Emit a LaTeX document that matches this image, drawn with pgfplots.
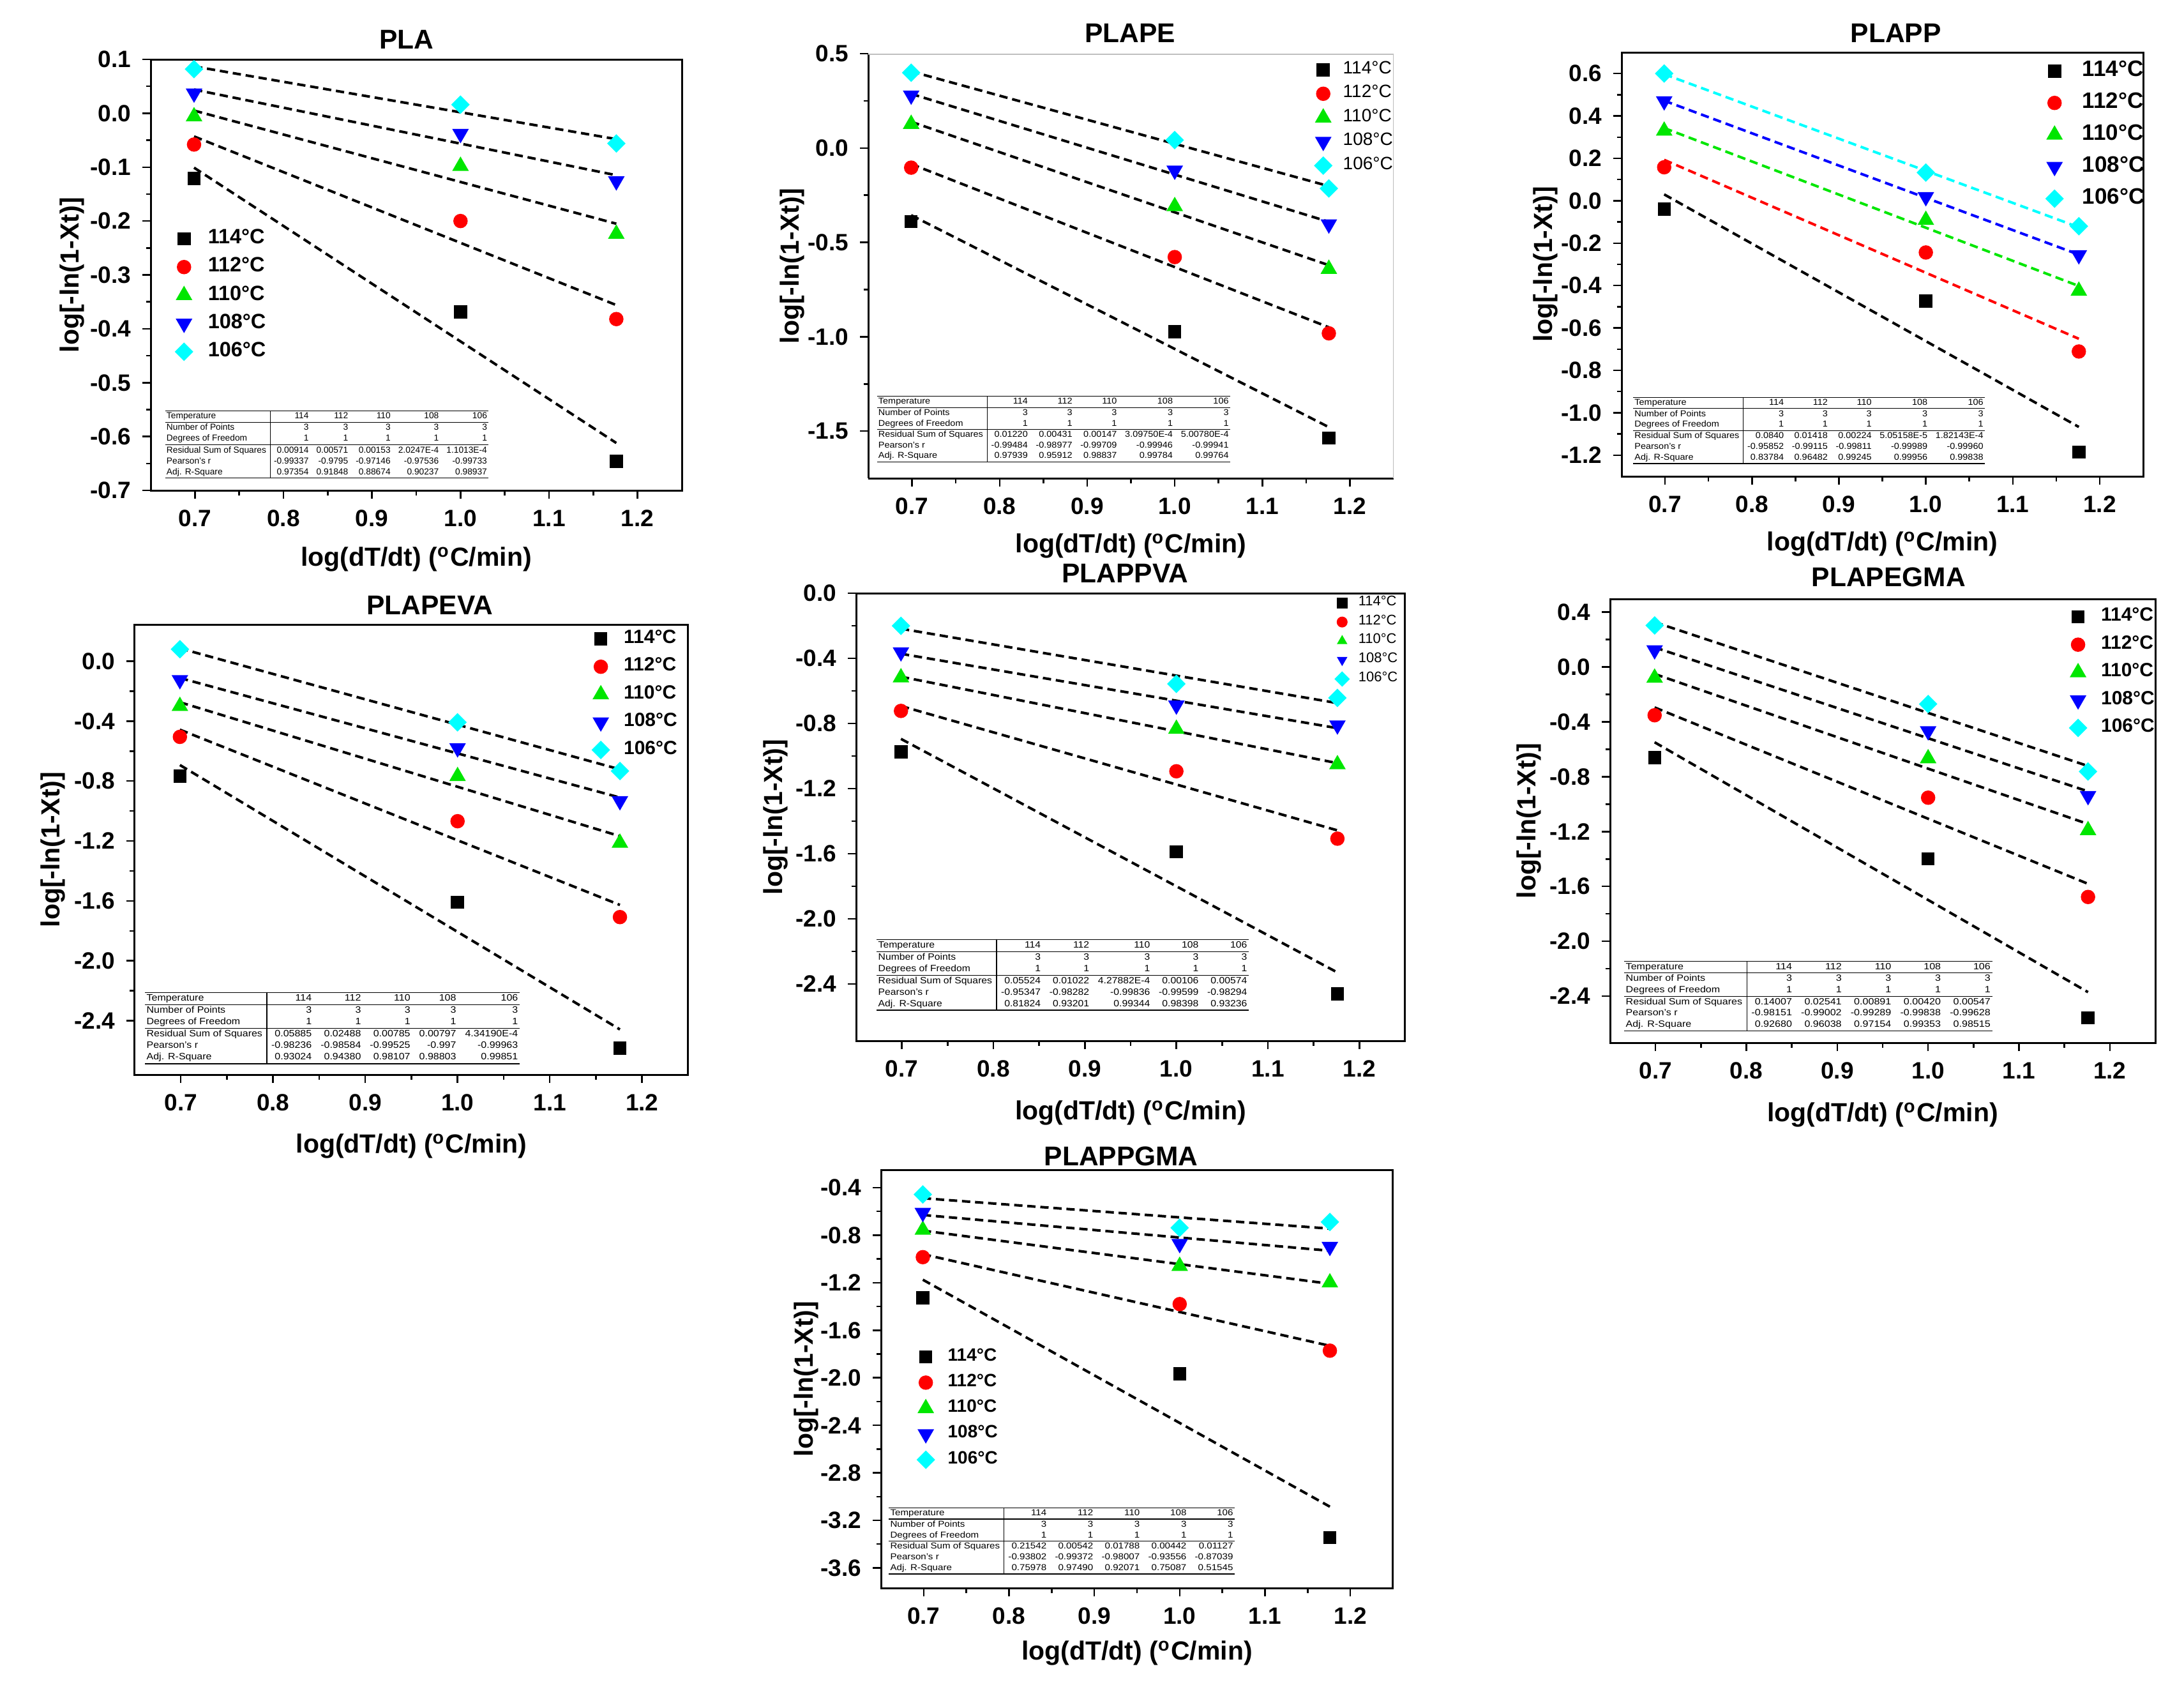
\documentclass[border=0pt]{standalone}
\usepackage{pgfplots}
\pgfplotsset{compat=1.18}
\usepackage{graphicx}
\usepackage{fontspec}
\setmainfont{Liberation Sans}
\definecolor{ored}{RGB}{255,0,0}
\definecolor{ogreen}{RGB}{0,230,0}
\definecolor{oblue}{RGB}{0,0,255}
\definecolor{ocyan}{RGB}{0,255,255}
\def\legsep{7pt}\def\legdy{0pt}
\tikzset{legextra/.style={}}
\pgfplotsset{
  s114/.style={only marks, mark=square*, mark size=1.85pt, color=black},
  s112/.style={only marks, mark=*, mark size=2.05pt, color=ored},
  s110/.style={only marks, mark=triangle*, mark size=2.6pt, color=ogreen},
  s108/.style={only marks, mark=triangle*, mark size=2.6pt, color=oblue, mark options={rotate=180}},
  s106/.style={only marks, mark=square*, mark size=1.85pt, color=ocyan, mark options={rotate=45}},
  fit/.style={forget plot, no marks, line width=0.8pt, dash pattern=on 2.6pt off 1.5pt},
  panel/.style={
    scale only axis, anchor=north west,
    xmin=0.65, xmax=1.25,
    xtick={0.7,0.8,0.9,1.0,1.1,1.2},
    minor x tick num=1, minor y tick num=1,
    tick align=outside, tick pos=left,
    major tick length=2.6pt, minor tick length=1.5pt,
    every tick/.style={black, line width=0.5pt},
    axis line style={line width=0.6pt},
    tick label style={font=\bfseries\fontsize{7.4}{8}\selectfont},
    /pgf/number format/assume math mode=true,
    /pgf/number format/fixed, /pgf/number format/fixed zerofill,
    /pgf/number format/precision=1,
    label style={font=\bfseries\fontsize{8.2}{9}\selectfont},
    every axis title/.style={font=\bfseries\fontsize{8.5}{9}\selectfont, anchor=center},
    xlabel={log(dT/dt) (\textsuperscript{o}C/min)},
    ylabel={log[-ln(1-Xt)]},
    xlabel style={anchor=center}, ylabel style={anchor=center},
    legend cell align=left,
    legend image code/.code={\begin{scope}[yshift=\legdy]\draw[##1,legextra] plot coordinates {(0pt,0pt)}; \path (-2.6pt,-2.6pt) (\legsep,2.6pt);\end{scope}},
    legend style={draw=none, fill=none, inner sep=0pt, outer sep=0pt, anchor=north west, nodes={inner sep=0pt}},
  }
}
\newcommand{\fittab}[5]{\resizebox*{#1}{#2}{\fontsize{5}{6.2}\selectfont\setlength{\tabcolsep}{2.2pt}%
\begin{tabular}{@{\,}l|rrrrr@{\,}}
\hline
Temperature & 114 & 112 & 110 & 108 & 106\\ \hline
Number of Points & 3 & 3 & 3 & 3 & 3\\
Degrees of Freedom & 1 & 1 & 1 & 1 & 1\\ \hline
Residual Sum of Squares & #3\\
Pearson's r & #4\\
Adj. R-Square & #5\\ \hline
\end{tabular}}}
\begin{document}
\begin{tikzpicture}
\useasboundingbox (0,0) rectangle (684.2pt,-528.2pt);
% ---------------- PLA
\def\legsep{7.3pt}
\begin{axis}[panel, at={(47.2pt,-18.6pt)}, width=166.4pt, height=135pt,
  ymin=-0.7, ymax=0.1, ytick={-0.7,-0.6,-0.5,-0.4,-0.3,-0.2,-0.1,0.0,0.1},
  title={PLA}, title style={at={(axis description cs:0.482,1.046)}},
  xlabel style={at={(axis description cs:0.5,-0.16)}},
  ylabel style={at={(axis description cs:-0.148,0.5)}},
  legend style={at={(axis description cs:0.046,0.606)}, font=\bfseries\fontsize{6.5}{7}\selectfont, row sep=2.8pt}]
\addplot[s114] coordinates {(0.699,-0.121) (1.0,-0.369) (1.176,-0.646)};
\addplot[s112] coordinates {(0.699,-0.058) (1.0,-0.200) (1.176,-0.382)};
\addplot[s110] coordinates {(0.699,-0.006) (1.0,-0.098) (1.176,-0.224)};
\addplot[s108] coordinates {(0.699,0.037) (1.0,-0.038) (1.176,-0.126)};
\addplot[s106] coordinates {(0.699,0.082) (1.0,0.016) (1.176,-0.056)};
\addplot[fit,black] coordinates {(0.699,-0.101) (1.176,-0.612)};
\addplot[fit,black] coordinates {(0.699,-0.043) (1.176,-0.356)};
\addplot[fit,black] coordinates {(0.699,0.005) (1.176,-0.205)};
\addplot[fit,black] coordinates {(0.699,0.044) (1.176,-0.115)};
\addplot[fit,black] coordinates {(0.699,0.087) (1.176,-0.048)};
\legend{114°C,112°C,110°C,108°C,106°C}
\end{axis}
% ---------------- PLAPE
\def\legsep{6pt}
\begin{axis}[panel, at={(272pt,-16.8pt)}, width=164.6pt, height=133pt,
  axis x line*=bottom, axis y line*=left,
  ymin=-1.75, ymax=0.5, ytick={-1.5,-1.0,-0.5,0.0,0.5},
  title={PLAPE}, title style={at={(axis description cs:0.498,1.048)}},
  xlabel style={at={(axis description cs:0.5,-0.159)}},
  ylabel style={at={(axis description cs:-0.145,0.5)}},
  legend style={at={(axis description cs:0.849,0.983)}, font=\fontsize{5.6}{6}\selectfont, row sep=1.9pt}]
\addplot[s114] coordinates {(0.699,-0.390) (1.0,-0.973) (1.176,-1.536)};
\addplot[s112] coordinates {(0.699,-0.104) (1.0,-0.578) (1.176,-0.982)};
\addplot[s110] coordinates {(0.699,0.127) (1.0,-0.309) (1.176,-0.641)};
\addplot[s108] coordinates {(0.699,0.279) (1.0,-0.119) (1.176,-0.404)};
\addplot[s106] coordinates {(0.699,0.399) (1.0,0.042) (1.176,-0.214)};
\addplot[fit,black] coordinates {(0.699,-0.356) (1.176,-1.479)};
\addplot[fit,black] coordinates {(0.699,-0.085) (1.176,-0.950)};
\addplot[fit,black] coordinates {(0.699,0.139) (1.176,-0.621)};
\addplot[fit,black] coordinates {(0.699,0.287) (1.176,-0.391)};
\addplot[fit,black] coordinates {(0.699,0.406) (1.176,-0.202)};
\draw[black!25, line width=0.6pt] (rel axis cs:0,1) -- (rel axis cs:1,1) -- (rel axis cs:1,0);
\legend{114°C,112°C,110°C,108°C,106°C}
\end{axis}
% ---------------- PLAPP
\def\legsep{8.5pt}
\begin{axis}[panel, at={(508pt,-16.4pt)}, width=163.4pt, height=132.8pt,
  ymin=-1.3, ymax=0.7, ytick={-1.2,-1.0,-0.8,-0.6,-0.4,-0.2,0.0,0.2,0.4,0.6},
  title={PLAPP}, title style={at={(axis description cs:0.526,1.045)}},
  xlabel style={at={(axis description cs:0.5,-0.16)}},
  ylabel style={at={(axis description cs:-0.146,0.5)}},
  legend style={at={(axis description cs:0.813,0.980)}, font=\bfseries\fontsize{7}{8}\selectfont, row sep=3.6pt}]
\addplot[s114] coordinates {(0.699,-0.040) (1.0,-0.473) (1.176,-1.186)};
\addplot[s112] coordinates {(0.699,0.158) (1.0,-0.244) (1.176,-0.711)};
\addplot[s110] coordinates {(0.699,0.330) (1.0,-0.091) (1.176,-0.425)};
\addplot[s108] coordinates {(0.699,0.470) (1.0,0.018) (1.176,-0.256)};
\addplot[s106] coordinates {(0.699,0.600) (1.0,0.133) (1.176,-0.120)};
\addplot[fit,black] coordinates {(0.699,0.030) (1.176,-1.067)};
\addplot[fit,ored] coordinates {(0.699,0.193) (1.176,-0.651)};
\addplot[fit,ogreen] coordinates {(0.699,0.343) (1.176,-0.402)};
\addplot[fit,oblue] coordinates {(0.699,0.472) (1.176,-0.254)};
\addplot[fit,ocyan] coordinates {(0.699,0.597) (1.176,-0.125)};
\legend{114°C,112°C,110°C,108°C,106°C}
\end{axis}
% ---------------- PLAPEVA
\def\legsep{7pt}
\begin{axis}[panel, at={(42.2pt,-195.6pt)}, width=173.4pt, height=141pt,
  ymin=-2.76, ymax=0.245, ytick={-2.4,-2.0,-1.6,-1.2,-0.8,-0.4,0.0},
  title={PLAPEVA}, title style={at={(axis description cs:0.533,1.043)}},
  xlabel style={at={(axis description cs:0.5,-0.159)}},
  ylabel style={at={(axis description cs:-0.148,0.5)}},
  legend style={at={(axis description cs:0.826,0.988)}, font=\bfseries\fontsize{6}{7}\selectfont, row sep=3.0pt}]
\addplot[s114] coordinates {(0.699,-0.768) (1.0,-1.608) (1.176,-2.583)};
\addplot[s112] coordinates {(0.699,-0.505) (1.0,-1.068) (1.176,-1.708)};
\addplot[s110] coordinates {(0.699,-0.300) (1.0,-0.768) (1.176,-1.213)};
\addplot[s108] coordinates {(0.699,-0.125) (1.0,-0.580) (1.176,-0.933)};
\addplot[s106] coordinates {(0.699,0.080) (1.0,-0.408) (1.176,-0.733)};
\addplot[fit,black] coordinates {(0.699,-0.693) (1.176,-2.458)};
\addplot[fit,black] coordinates {(0.699,-0.457) (1.176,-1.627)};
\addplot[fit,black] coordinates {(0.699,-0.274) (1.176,-1.168)};
\addplot[fit,black] coordinates {(0.699,-0.112) (1.176,-0.910)};
\addplot[fit,black] coordinates {(0.699,0.086) (1.176,-0.722)};
\legend{114°C,112°C,110°C,108°C,106°C}
\end{axis}
% ---------------- PLAPPVA
\def\legsep{4.9pt}
\tikzset{legextra/.style={mark size=1.5pt}}
\begin{axis}[panel, at={(268.2pt,-185.8pt)}, width=172pt, height=140.2pt,
  ymin=-2.75, ymax=0.0, ytick={-2.4,-2.0,-1.6,-1.2,-0.8,-0.4,0.0},
  title={PLAPPVA}, title style={at={(axis description cs:0.49,1.044)}},
  xlabel style={at={(axis description cs:0.5,-0.161)}},
  ylabel style={at={(axis description cs:-0.147,0.5)}},
  legend style={at={(axis description cs:0.869,0.998)}, font=\fontsize{4.4}{5}\selectfont, row sep=0.35pt}]
\addplot[s114] coordinates {(0.699,-0.974) (1.0,-1.589) (1.176,-2.462)};
\addplot[s112] coordinates {(0.699,-0.723) (1.0,-1.094) (1.176,-1.508)};
\addplot[s110] coordinates {(0.699,-0.518) (1.0,-0.834) (1.176,-1.052)};
\addplot[s108] coordinates {(0.699,-0.362) (1.0,-0.689) (1.176,-0.811)};
\addplot[s106] coordinates {(0.699,-0.200) (1.0,-0.557) (1.176,-0.643)};
\addplot[fit,black] coordinates {(0.699,-0.895) (1.176,-2.330)};
\addplot[fit,black] coordinates {(0.699,-0.693) (1.176,-1.457)};
\addplot[fit,black] coordinates {(0.699,-0.513) (1.176,-1.044)};
\addplot[fit,black] coordinates {(0.699,-0.372) (1.176,-0.829)};
\addplot[fit,black] coordinates {(0.699,-0.218) (1.176,-0.675)};
\legend{114°C,112°C,110°C,108°C,106°C}
\end{axis}
\tikzset{legextra/.style={}}
% ---------------- PLAPEGMA
\def\legsep{7pt}
\begin{axis}[panel, at={(504.4pt,-187.6pt)}, width=170.8pt, height=139pt,
  ymin=-2.74, ymax=0.496, ytick={-2.4,-2.0,-1.6,-1.2,-0.8,-0.4,0.0,0.4},
  title={PLAPEGMA}, title style={at={(axis description cs:0.511,1.049)}},
  xlabel style={at={(axis description cs:0.5,-0.163)}},
  ylabel style={at={(axis description cs:-0.149,0.5)}},
  legend style={at={(axis description cs:0.842,0.980)}, font=\bfseries\fontsize{6}{7}\selectfont, row sep=3.0pt}]
\addplot[s114] coordinates {(0.699,-0.661) (1.0,-1.399) (1.176,-2.559)};
\addplot[s112] coordinates {(0.699,-0.352) (1.0,-0.953) (1.176,-1.677)};
\addplot[s110] coordinates {(0.699,-0.079) (1.0,-0.667) (1.176,-1.191)};
\addplot[s108] coordinates {(0.699,0.123) (1.0,-0.467) (1.176,-0.940)};
\addplot[s106] coordinates {(0.699,0.303) (1.0,-0.270) (1.176,-0.762)};
\addplot[fit,black] coordinates {(0.699,-0.549) (1.176,-2.371)};
\addplot[fit,black] coordinates {(0.699,-0.295) (1.176,-1.581)};
\addplot[fit,black] coordinates {(0.699,-0.051) (1.176,-1.145)};
\addplot[fit,black] coordinates {(0.699,0.143) (1.176,-0.907)};
\addplot[fit,black] coordinates {(0.699,0.327) (1.176,-0.722)};
\legend{114°C,112°C,110°C,108°C,106°C}
\end{axis}
% ---------------- PLAPPGMA
\def\legsep{6.7pt}
\begin{axis}[panel, at={(276pt,-366.4pt)}, width=160.4pt, height=131pt,
  ymin=-3.77, ymax=-0.25, ytick={-3.6,-3.2,-2.8,-2.4,-2.0,-1.6,-1.2,-0.8,-0.4},
  title={PLAPPGMA}, title style={at={(axis description cs:0.469,1.033)}},
  xlabel style={at={(axis description cs:0.5,-0.156)}},
  ylabel style={at={(axis description cs:-0.146,0.5)}},
  legend style={at={(axis description cs:0.070,0.574)}, font=\bfseries\fontsize{5.6}{6}\selectfont, row sep=2.45pt}]
\addplot[s114] coordinates {(0.699,-1.328) (1.0,-1.967) (1.176,-3.345)};
\addplot[s112] coordinates {(0.699,-0.985) (1.0,-1.380) (1.176,-1.772)};
\addplot[s110] coordinates {(0.699,-0.756) (1.0,-1.060) (1.176,-1.199)};
\addplot[s108] coordinates {(0.699,-0.611) (1.0,-0.873) (1.176,-0.897)};
\addplot[s106] coordinates {(0.699,-0.457) (1.0,-0.738) (1.176,-0.689)};
\addplot[fit,black] coordinates {(0.699,-1.175) (1.176,-3.085)};
\addplot[fit,black] coordinates {(0.699,-0.960) (1.176,-1.731)};
\addplot[fit,black] coordinates {(0.699,-0.762) (1.176,-1.209)};
\addplot[fit,black] coordinates {(0.699,-0.630) (1.176,-0.931)};
\addplot[fit,black] coordinates {(0.699,-0.489) (1.176,-0.745)};
\legend{114°C,112°C,110°C,108°C,106°C}
\end{axis}
% ---------------- fit tables
\node[anchor=north west, inner sep=0pt] at (51.54pt,-128.36pt) {\fittab{101.3pt}{21.3pt}{0.00914 & 0.00571 & 0.00153 & 2.0247E-4 & 1.1013E-4}{-0.99337 & -0.9795 & -0.97146 & -0.97536 & -0.99733}{0.97354 & 0.91848 & 0.88674 & 0.90237 & 0.98937}};
\node[anchor=north west, inner sep=0pt] at (274.5pt,-123.8pt) {\fittab{110.7pt}{20.8pt}{0.01220 & 0.00431 & 0.00147 & 3.09750E-4 & 5.00780E-4}{-0.99484 & -0.98977 & -0.99709 & -0.99946 & -0.99941}{0.97939 & 0.95912 & 0.98837 & 0.99784 & 0.99764}};
\node[anchor=north west, inner sep=0pt] at (511.4pt,-124.1pt) {\fittab{110.2pt}{21pt}{0.0840 & 0.01418 & 0.00224 & 5.05158E-5 & 1.82143E-4}{-0.95852 & -0.99115 & -0.99811 & -0.99989 & -0.99960}{0.83784 & 0.96482 & 0.99245 & 0.99956 & 0.99838}};
\node[anchor=north west, inner sep=0pt] at (45.2pt,-310.5pt) {\fittab{117.4pt}{22.6pt}{0.05885 & 0.02488 & 0.00785 & 0.00797 & 4.34190E-4}{-0.98236 & -0.98584 & -0.99525 & -0.997 & -0.99963}{0.93024 & 0.94380 & 0.98107 & 0.98803 & 0.99851}};
\node[anchor=north west, inner sep=0pt] at (274.4pt,-294pt) {\fittab{116.6pt}{22.3pt}{0.05524 & 0.01022 & 4.27882E-4 & 0.00106 & 0.00574}{-0.95347 & -0.98282 & -0.99836 & -0.99599 & -0.98294}{0.81824 & 0.93201 & 0.99344 & 0.98398 & 0.93236}};
\node[anchor=north west, inner sep=0pt] at (508.6pt,-300.7pt) {\fittab{115.3pt}{22.1pt}{0.14007 & 0.02541 & 0.00891 & 0.00420 & 0.00547}{-0.98151 & -0.99002 & -0.99289 & -0.99838 & -0.99628}{0.92680 & 0.96038 & 0.97154 & 0.99353 & 0.98515}};
\node[anchor=north west, inner sep=0pt] at (278.2pt,-471.9pt) {\fittab{108.4pt}{21pt}{0.21542 & 0.00542 & 0.01788 & 0.00442 & 0.01127}{-0.93802 & -0.99372 & -0.98007 & -0.93556 & -0.87039}{0.75978 & 0.97490 & 0.92071 & 0.75087 & 0.51545}};
\end{tikzpicture}
\end{document}
